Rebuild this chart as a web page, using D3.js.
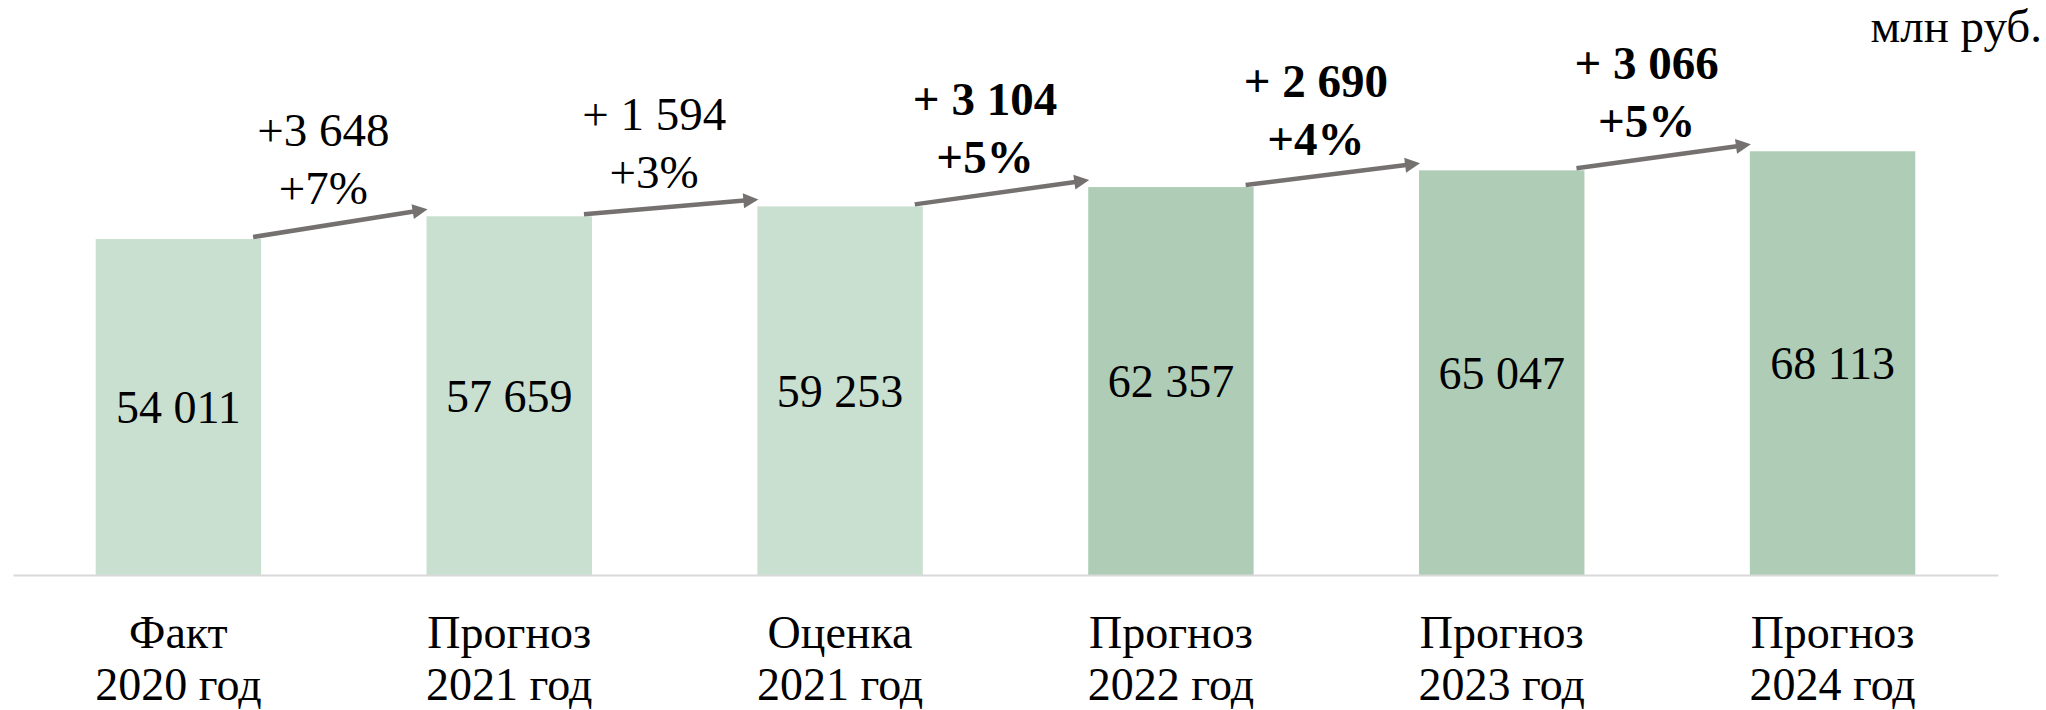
<!DOCTYPE html>
<html>
<head>
<meta charset="utf-8">
<script src="https://cdn.jsdelivr.net/npm/d3@7/dist/d3.min.js"></script>
</head>
<body style="margin:0">
<svg id="fig" width="2046" height="710"></svg>
<script>
// ---- data ----
const categoriesTop = ["Факт", "Прогноз", "Оценка", "Прогноз", "Прогноз", "Прогноз"];
const categoriesBottom = ["2020 год", "2021 год", "2021 год", "2022 год", "2023 год", "2024 год"];
const values = [54011, 57659, 59253, 62357, 65047, 68113];
const barShade = ["light", "light", "light", "dark", "dark", "dark"];
const deltaLabels = ["+3 648", "+ 1 594", "+ 3 104", "+ 2 690", "+ 3 066"];
const pctLabels = ["+7%", "+3%", "+5%", "+4%", "+5%"];
const deltaBold = [false, false, true, true, true];
const unitLabel = "млн руб.";

// ---- layout ----
const FONT = "Liberation Serif";
const baseY = 575;
const svg = d3.select("#fig");

function label(sel, size, weight) {
  return sel
    .attr("font-family", FONT)
    .attr("font-size", size)
    .attr("font-weight", weight || "normal")
    .style("font-family", FONT, "important")
    .style("font-size", size + "px", "important")
    .style("font-weight", weight || "normal", "important")
    .attr("fill", "#000");
}

const x = d3.scaleBand()
  .domain(d3.range(values.length))
  .range([13, 1998])
  .paddingInner(0.5)
  .paddingOuter(0.25);

const y = d3.scaleLinear()
  .domain([0, 80000])
  .range([baseY, baseY - 80000 * 0.006221]);

const color = d3.scaleOrdinal().domain(["light", "dark"]).range(["#c9dfd0", "#afcdb6"]);
const fmt = d3.formatLocale({ decimal: ",", thousands: " ", grouping: [3], currency: ["", ""] }).format(",d");

// bars
svg.append("g").selectAll("rect")
  .data(values)
  .join("rect")
  .attr("x", (d, i) => x(i))
  .attr("width", x.bandwidth())
  .attr("y", d => y(d))
  .attr("height", d => y(0) - y(d))
  .attr("fill", (d, i) => color(barShade[i]));

// axis line
const axis = svg.append("g")
  .attr("transform", `translate(0,${baseY})`)
  .call(d3.axisBottom(x).tickSize(0).tickSizeOuter(0).tickFormat(""));
axis.select(".domain").attr("stroke", "#d9d9d9").attr("stroke-width", 2);
axis.selectAll(".tick text").remove();

// category labels
const cat = svg.append("g");
categoriesTop.forEach((c, i) => {
  const cx = x(i) + x.bandwidth() / 2;
  label(cat.append("text"), 46)
    .attr("x", cx).attr("y", baseY + 73)
    .attr("text-anchor", "middle")
    .text(c);
  label(cat.append("text"), 46)
    .attr("x", cx).attr("y", baseY + 125)
    .attr("text-anchor", "middle")
    .text(categoriesBottom[i]);
});

// value labels
values.forEach((v, i) => {
  label(svg.append("text"), 46)
    .attr("x", x(i) + x.bandwidth() / 2)
    .attr("y", (y(v) + y(0)) / 2 + 16)
    .attr("text-anchor", "middle")
    .text(fmt(v));
});

// arrows
const arrowColor = "#767171";
const arrows = d3.range(values.length - 1).map(i => {
  const x1 = x(i) + x.bandwidth() - 8, y1 = y(values[i]) - 2;
  const x2 = x(i + 1) + 1, y2 = y(values[i + 1]) - 7;
  return { i, x1, y1, x2, y2 };
});
const ag = svg.append("g");
arrows.forEach(a => {
  const dx = a.x2 - a.x1, dy = a.y2 - a.y1;
  const len = Math.hypot(dx, dy);
  const ux = dx / len, uy = dy / len;
  const head = 15, half = 7.5;
  const bx = a.x2 - ux * head, by = a.y2 - uy * head;
  ag.append("line")
    .attr("x1", a.x1).attr("y1", a.y1)
    .attr("x2", bx + ux * 1).attr("y2", by + uy * 1)
    .attr("stroke", arrowColor).attr("stroke-width", 4.5);
  ag.append("path")
    .attr("d", `M${a.x2},${a.y2}L${bx - uy * half},${by + ux * half}L${bx + uy * half},${by - ux * half}Z`)
    .attr("fill", arrowColor);
});

// delta annotations
arrows.forEach(a => {
  const mx = (a.x1 + a.x2) / 2 - 17;
  const my = (a.y1 + a.y2) / 2 - 35 + 16;
  const w = deltaBold[a.i] ? "bold" : "normal";
  label(svg.append("text"), 47, w)
    .attr("x", mx).attr("y", my - 58)
    .attr("text-anchor", "middle")
    .text(deltaLabels[a.i]);
  label(svg.append("text"), 47, w)
    .attr("x", mx).attr("y", my)
    .attr("text-anchor", "middle")
    .text(pctLabels[a.i]);
});

// unit label
label(svg.append("text"), 47)
  .attr("x", 2042).attr("y", 42)
  .attr("text-anchor", "end")
  .text(unitLabel);
</script>
</body>
</html>
